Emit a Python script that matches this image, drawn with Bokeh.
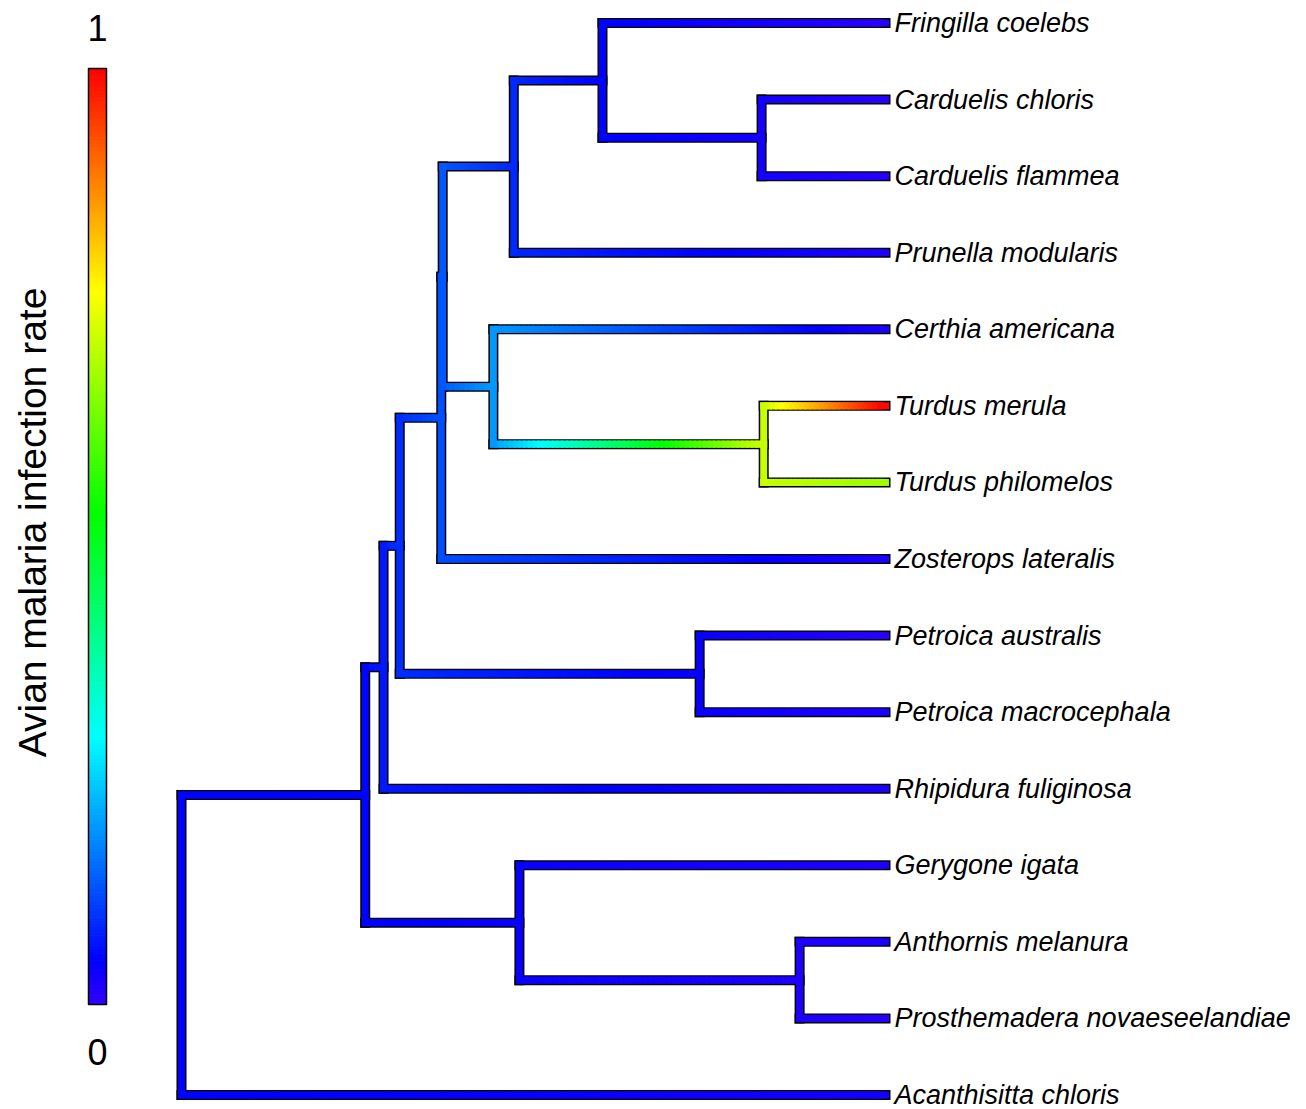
import colorsys
import numpy as np
from bokeh.plotting import figure
from bokeh.models import Range1d
from bokeh.core.properties import value
from bokeh.embed import file_html
from bokeh.resources import INLINE

# ---------------- data ----------------
tip_labels = [
    "Fringilla coelebs", "Carduelis chloris", "Carduelis flammea", "Prunella modularis",
    "Certhia americana", "Turdus merula", "Turdus philomelos", "Zosterops lateralis",
    "Petroica australis", "Petroica macrocephala", "Rhipidura fuliginosa", "Gerygone igata",
    "Anthornis melanura", "Prosthemadera novaeseelandiae", "Acanthisitta chloris",
]
tip_values = [0.01, 0.01, 0.01, 0.02, 0.02, 1.0, 0.67, 0.02,
              0.01, 0.02, 0.02, 0.02, 0.02, 0.01, 0.03]
tip_height = 1.0

node_names = ["root", "B", "C", "D", "E2", "E1", "F", "H", "Card", "G", "Turd", "Pet", "Gery", "AnPr"]
node_heights = [0.0, 0.261, 0.287, 0.310, 0.369, 0.371, 0.472, 0.598, 0.824, 0.443, 0.827, 0.736, 0.480, 0.878]
node_values = [0.05, 0.05, 0.07, 0.09, 0.12, 0.13, 0.085, 0.05, 0.03, 0.19, 0.71, 0.04, 0.04, 0.02]
node_children = [
    ["B", "Acanthisitta chloris"],
    ["C", "Gery"],
    ["D", "Rhipidura fuliginosa"],
    ["E2", "Pet"],
    ["E1", "Zosterops lateralis"],
    ["F", "G"],
    ["H", "Prunella modularis"],
    ["Fringilla coelebs", "Card"],
    ["Carduelis chloris", "Carduelis flammea"],
    ["Certhia americana", "Turd"],
    ["Turdus merula", "Turdus philomelos"],
    ["Petroica australis", "Petroica macrocephala"],
    ["Gerygone igata", "AnPr"],
    ["Anthornis melanura", "Prosthemadera novaeseelandiae"],
]
scale_ticks = [0, 1]
scale_title = "Avian malaria infection rate"

# ---------------- helpers ----------------
def colour(v):
    v = min(max(v, 0.0), 1.0)
    r, g, b = colorsys.hsv_to_rgb(0.7 * (1 - v), 1.0, 1.0)
    return "#%02x%02x%02x" % (int(round(r * 255)), int(round(g * 255)), int(round(b * 255)))

X, Y, V = {}, {}, {}
for i, name in enumerate(tip_labels):
    X[name] = tip_height
    Y[name] = i + 1
    V[name] = tip_values[i]
for name, h, v in zip(node_names, node_heights, node_values):
    X[name] = h
    V[name] = v
children = dict(zip(node_names, node_children))

def node_y(n):
    if n in Y:
        return Y[n]
    ys = [node_y(c) for c in children[n]]
    Y[n] = (min(ys) + max(ys)) / 2.0
    return Y[n]

node_y("root")

# ---------------- layout ----------------
W, H = 1298, 1109
PXU = 704.0      # pixels per unit of depth
ROOT_PX = 181    # root x on canvas
TIP_PX = 76.57   # pixel spacing between tips
TOP_PX = 22.5    # first tip y on canvas

x0 = -ROOT_PX / PXU
x1 = x0 + W / PXU
y_top = 1 - TOP_PX / TIP_PX
y_bot = y_top + H / TIP_PX

def dx(px):
    return x0 + px / PXU

def dy(py):
    return y_top + py / TIP_PX

p = figure(width=W, height=H, output_backend="svg", toolbar_location=None,
           x_axis_type=None, y_axis_type=None, min_border=0,
           x_range=Range1d(x0, x1), y_range=Range1d(y_bot, y_top))
p.outline_line_color = None
p.grid.visible = False
p.background_fill_color = "white"

ox0, oy0, ox1, oy1 = [], [], [], []
hx0, hy0, hx1, hy1, hc = [], [], [], [], []
vx0, vy0, vx1, vy1, vc = [], [], [], [], []

for n in node_names:
    ch = children[n]
    ys = [Y[c] for c in ch]
    ox0.append(X[n]); ox1.append(X[n]); oy0.append(min(ys)); oy1.append(max(ys))
    vx0.append(X[n]); vx1.append(X[n]); vy0.append(min(ys)); vy1.append(max(ys)); vc.append(colour(V[n]))
    for c in ch:
        ox0.append(X[n]); ox1.append(X[c]); oy0.append(Y[c]); oy1.append(Y[c])
        L = X[c] - X[n]
        k = max(3, int(L * 150))
        edges = np.linspace(X[n], X[c], k + 1)
        for j in range(k):
            t = (j + 0.5) / k
            hx0.append(edges[j]); hx1.append(edges[j + 1])
            hy0.append(Y[c]); hy1.append(Y[c])
            hc.append(colour(V[n] + (V[c] - V[n]) * t))

p.segment(ox0, oy0, ox1, oy1, line_color="black", line_width=10, line_cap="square")
p.segment(hx0, hy0, hx1, hy1, line_color=hc, line_width=7, line_cap="square")
p.segment(vx0, vy0, vx1, vy1, line_color=vc, line_width=7, line_cap="square")

# tip labels
p.text(x=[X[t] for t in tip_labels], y=[Y[t] for t in tip_labels], text=tip_labels,
       x_offset=9, text_font=value("Liberation Sans"), text_font_style="italic",
       text_font_size="27px", text_baseline="middle", text_align="left", text_color="black")

# colour scale bar
bar_l, bar_r = dx(88), dx(106)
bar_t, bar_b = dy(68), dy(1004)
nslice = 300
vals = np.linspace(0, 1, nslice + 1)
slice_cols = [colour((vals[i] + vals[i + 1]) / 2) for i in range(nslice)]
p.quad(left=bar_l, right=bar_r,
       bottom=[bar_b + (bar_t - bar_b) * vals[i] for i in range(nslice)],
       top=[bar_b + (bar_t - bar_b) * vals[i + 1] for i in range(nslice)],
       fill_color=slice_cols, line_color=slice_cols, line_width=1)
p.quad(left=[bar_l], right=[bar_r], bottom=[bar_b], top=[bar_t], fill_color=None,
       line_color="black", line_width=1.5)

bar_cx = (bar_l + bar_r) / 2
p.text(x=[bar_cx, bar_cx], y=[bar_b, bar_t], text=[str(s) for s in scale_ticks],
       y_offset=[47, -41], text_font=value("Liberation Sans"), text_font_size="36px",
       text_align="center", text_baseline="middle", text_color="black")
p.text(x=[dx(32)], y=[dy(522)], text=[scale_title], angle=np.pi / 2,
       text_font=value("Liberation Sans"), text_font_size="39px",
       text_align="center", text_baseline="middle", text_color="black")

open("out.html", "w").write(file_html(p, INLINE))
